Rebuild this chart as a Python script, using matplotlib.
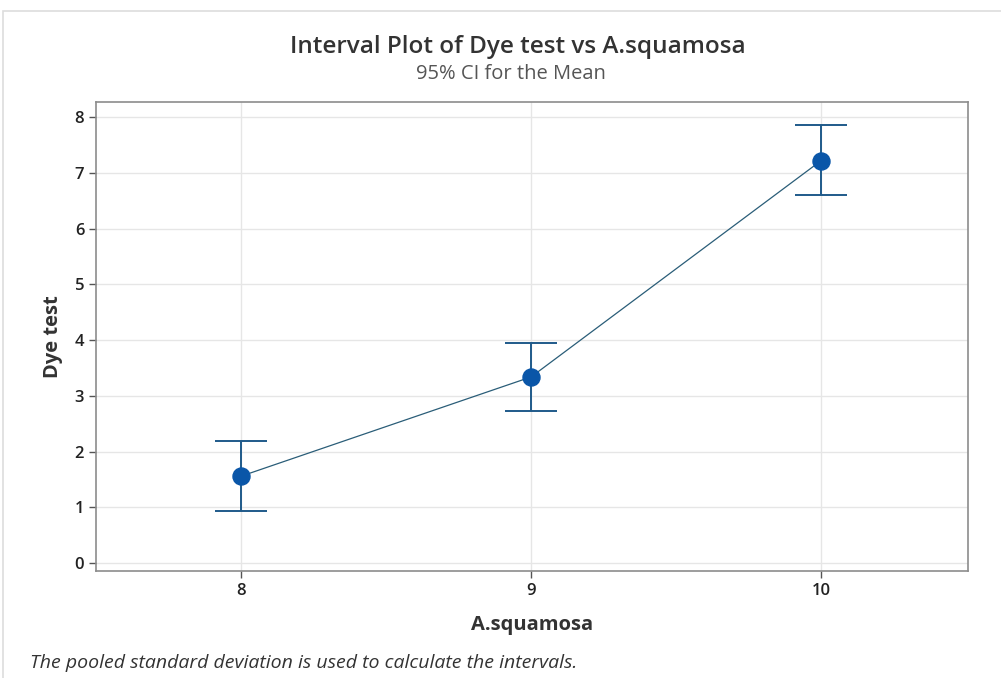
import numpy as np
import matplotlib
matplotlib.use("Agg")
import matplotlib.pyplot as plt
from matplotlib.patches import Rectangle

plt.rcParams['font.family'] = ['Open Sans', 'DejaVu Sans']

# data
levels = [8, 9, 10]
means = [1.56, 3.34, 7.22]
ci_low = [0.93, 2.73, 6.60]
ci_high = [2.19, 3.95, 7.85]
yticks = [0, 1, 2, 3, 4, 5, 6, 7, 8]

fig = plt.figure(figsize=(10.01, 6.78), dpi=100)
ax = fig.add_axes([96 / 1001, 1 - 571 / 678, 872 / 1001, 469 / 678])

# outer frame like the screenshot
fig.patches.append(Rectangle((3 / 1001, -0.01), 1.0, 1 - 11 / 678 + 0.01,
                             transform=fig.transFigure, fill=False,
                             edgecolor='#dddddd', linewidth=1.2))

err = [np.array(means) - np.array(ci_low), np.array(ci_high) - np.array(means)]
ax.plot(levels, means, color='#2a5d78', linewidth=0.9, zorder=3)
ax.errorbar(levels, means, yerr=err, fmt='none', ecolor='#1f5a8a',
            elinewidth=1.4, capsize=19, capthick=1.4, zorder=4)
ax.scatter(levels, means, s=150, color='#0a56a8', zorder=5)

ax.set_xlim(7.5, 10.506)
ax.set_ylim(-0.14, 8.27)
ax.set_xticks(levels)
ax.set_yticks(yticks)
ax.grid(True, color='#e6e6e6', linewidth=1)
ax.set_axisbelow(True)
for s in ax.spines.values():
    s.set_color('#8c8c8c')
    s.set_linewidth(1.2)
ax.tick_params(axis='both', colors='#555555', labelcolor='#222222',
               labelsize=12, length=5, width=1)
for lab in ax.get_xticklabels() + ax.get_yticklabels():
    lab.set_fontweight('semibold')

ax.set_xlabel('A.squamosa', fontsize=14.5, fontweight='bold', color='#333333', labelpad=12)
ax.set_ylabel('Dye test', fontsize=14.5, fontweight='bold', color='#333333', labelpad=8)

fig.text(0.517, 1 - 47 / 678, 'Interval Plot of Dye test vs A.squamosa',
         ha='center', va='center', fontsize=17.5, fontweight='semibold', color='#333333')
fig.text(0.51, 1 - 74 / 678, '95% CI for the Mean',
         ha='center', va='center', fontsize=14.5, color='#555555')
fig.text(30 / 1001, 1 - 663 / 678,
         'The pooled standard deviation is used to calculate the intervals.',
         ha='left', va='center', fontsize=14, style='italic', color='#333333')

fig.savefig('out.png', dpi=100)
